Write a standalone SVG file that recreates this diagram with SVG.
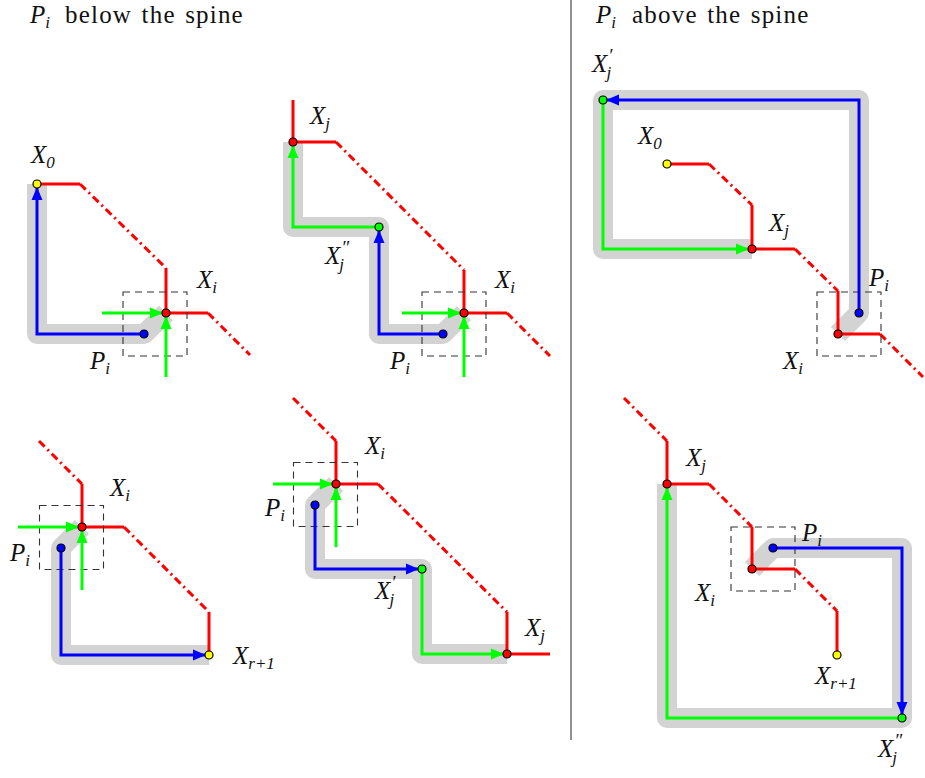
<svg xmlns="http://www.w3.org/2000/svg" width="925" height="778" viewBox="0 0 925 778">
<style>
.gray{fill:none;stroke:#d3d3d3;stroke-width:20;stroke-linejoin:round}
.red{fill:none;stroke:#ff0000;stroke-width:3}
.rdd{fill:none;stroke:#ff0000;stroke-width:3;stroke-dasharray:8 4 2 4}
.blue{fill:none;stroke:#0000ff;stroke-width:3}
.green{fill:none;stroke:#00ff00;stroke-width:3}
.box{fill:none;stroke:#333;stroke-width:1.1;stroke-dasharray:7 5}
.dot{stroke:#000;stroke-width:1.2}
</style>
<defs>
<marker id="ab" markerUnits="userSpaceOnUse" markerWidth="20" markerHeight="12" viewBox="0 -6 20 12" refX="16" refY="0" orient="auto" overflow="visible"><path d="M0,-5.5 L13,0 L0,5.5 z" fill="#0000ff"/></marker>
<marker id="ag" markerUnits="userSpaceOnUse" markerWidth="20" markerHeight="12" viewBox="0 -6 20 12" refX="16" refY="0" orient="auto" overflow="visible"><path d="M0,-5.5 L13,0 L0,5.5 z" fill="#00ff00"/></marker>
</defs>
<rect x="0" y="0" width="925" height="778" fill="#fff"/>

<g id="headers">
<text font-family="Times New Roman, Liberation Serif, serif" font-size="25" fill="#111" x="30" y="23"><tspan font-style="italic">P</tspan><tspan font-size="17" font-style="italic" dy="5">i</tspan><tspan dy="-5" x="65" letter-spacing="1.2" word-spacing="2">below the spine</tspan></text>
<text font-family="Times New Roman, Liberation Serif, serif" font-size="25" fill="#111" x="596" y="23"><tspan font-style="italic">P</tspan><tspan font-size="17" font-style="italic" dy="5">i</tspan><tspan dy="-5" x="632" letter-spacing="1.2" word-spacing="2">above the spine</tspan></text>
<line x1="571" y1="0" x2="571" y2="740" stroke="#555" stroke-width="1.3"/>
</g>

<!-- Panel 1 -->
<g id="panel1">
<g id="p1-connectors">
<path class="gray" d="M37,184 V334 H144 L166,313"/>
<path class="red" d="M37,184 H80 M166,268 V313 H208"/>
<path class="rdd" d="M80,184 L166,268 M208,313 L250,355"/>
<rect class="box" x="123" y="292" width="64" height="64"/>
<path class="blue" d="M144,334 H37 V184" marker-end="url(#ab)"/>
<path class="green" d="M102,313 H166" marker-end="url(#ag)"/>
<path class="green" d="M166,377 V313" marker-end="url(#ag)"/>
</g>
<g id="p1-X0"><circle class="dot" cx="37" cy="184" r="4" fill="#ffff00"/><text font-family="Times New Roman, Liberation Serif, serif" font-size="25" font-style="italic" fill="#111" x="31" y="163">X<tspan font-size="17" dy="5">0</tspan></text></g>
<g id="p1-Xi"><circle class="dot" cx="166" cy="313" r="4" fill="#ff0000"/><text font-family="Times New Roman, Liberation Serif, serif" font-size="25" font-style="italic" fill="#111" x="197" y="288">X<tspan font-size="17" dy="5">i</tspan></text></g>
<g id="p1-Pi"><circle class="dot" cx="144" cy="334" r="4" fill="#0000ff"/><text font-family="Times New Roman, Liberation Serif, serif" font-size="25" font-style="italic" fill="#111" x="90" y="369">P<tspan font-size="17" dy="5">i</tspan></text></g>
</g>

<!-- Panel 2 -->
<g id="panel2">
<g id="p2-connectors">
<path class="gray" d="M293,142 V227 H379 V334 H443 L464,313"/>
<path class="red" d="M293,100 V142 H336 M464,270 V313 H507"/>
<path class="rdd" d="M336,142 L464,270 M507,313 L550,356"/>
<rect class="box" x="422" y="292" width="64" height="64"/>
<path class="green" d="M379,227 H293 V142" marker-end="url(#ag)"/>
<path class="blue" d="M443,334 H379 V227" marker-end="url(#ab)"/>
<path class="green" d="M402,313 H464" marker-end="url(#ag)"/>
<path class="green" d="M464,377 V313" marker-end="url(#ag)"/>
</g>
<g id="p2-Xj"><circle class="dot" cx="293" cy="142" r="4" fill="#ff0000"/><text font-family="Times New Roman, Liberation Serif, serif" font-size="25" font-style="italic" fill="#111" x="310" y="124">X<tspan font-size="17" dy="5">j</tspan></text></g>
<g id="p2-Xj2"><circle class="dot" cx="379" cy="227" r="4" fill="#00ff00"/><text font-family="Times New Roman, Liberation Serif, serif" font-size="25" font-style="italic" fill="#111" x="325" y="264">X<tspan font-size="19" dy="-10" dx="1">″</tspan><tspan font-size="17" dy="16" dx="-10">j</tspan></text></g>
<g id="p2-Xi"><circle class="dot" cx="464" cy="313" r="4" fill="#ff0000"/><text font-family="Times New Roman, Liberation Serif, serif" font-size="25" font-style="italic" fill="#111" x="495" y="288">X<tspan font-size="17" dy="5">i</tspan></text></g>
<g id="p2-Pi"><circle class="dot" cx="443" cy="334" r="4" fill="#0000ff"/><text font-family="Times New Roman, Liberation Serif, serif" font-size="25" font-style="italic" fill="#111" x="390" y="369">P<tspan font-size="17" dy="5">i</tspan></text></g>
</g>

<!-- Panel 3 -->
<g id="panel3">
<g id="p3-connectors">
<path class="gray" d="M752,249 H603 V100 H859 V313 L838,334"/>
<path class="red" d="M667,164 H709 M752,205 V249 H795 M838,291 V334 H880"/>
<path class="rdd" d="M709,164 L752,205 M795,249 L838,291 M880,334 L923,377"/>
<rect class="box" x="817" y="292" width="64" height="64"/>
<path class="blue" d="M859,313 V100 H603" marker-end="url(#ab)"/>
<path class="green" d="M603,100 V249 H752" marker-end="url(#ag)"/>
</g>
<g id="p3-Xj1"><circle class="dot" cx="603" cy="100" r="4" fill="#00ff00"/><text font-family="Times New Roman, Liberation Serif, serif" font-size="25" font-style="italic" fill="#111" x="592" y="72">X<tspan font-size="19" dy="-10" dx="1">′</tspan><tspan font-size="17" dy="16" dx="-6">j</tspan></text></g>
<g id="p3-X0"><circle class="dot" cx="667" cy="164" r="4" fill="#ffff00"/><text font-family="Times New Roman, Liberation Serif, serif" font-size="25" font-style="italic" fill="#111" x="638" y="144">X<tspan font-size="17" dy="5">0</tspan></text></g>
<g id="p3-Xj"><circle class="dot" cx="752" cy="249" r="4" fill="#ff0000"/><text font-family="Times New Roman, Liberation Serif, serif" font-size="25" font-style="italic" fill="#111" x="769" y="231">X<tspan font-size="17" dy="5">j</tspan></text></g>
<g id="p3-Pi"><circle class="dot" cx="859" cy="313" r="4" fill="#0000ff"/><text font-family="Times New Roman, Liberation Serif, serif" font-size="25" font-style="italic" fill="#111" x="869" y="286">P<tspan font-size="17" dy="5">i</tspan></text></g>
<g id="p3-Xi"><circle class="dot" cx="838" cy="334" r="4" fill="#ff0000"/><text font-family="Times New Roman, Liberation Serif, serif" font-size="25" font-style="italic" fill="#111" x="783" y="369">X<tspan font-size="17" dy="5">i</tspan></text></g>
</g>

<!-- Panel 4 -->
<g id="panel4">
<g id="p4-connectors">
<path class="gray" d="M82,527 L61,548 V655 H209"/>
<path class="red" d="M82,484 V527 H124 M209,612 V655"/>
<path class="rdd" d="M39,441 L82,484 M124,527 L209,612"/>
<rect class="box" x="39.5" y="505.5" width="64" height="64"/>
<path class="blue" d="M61,548 V655 H209" marker-end="url(#ab)"/>
<path class="green" d="M18,527 H82" marker-end="url(#ag)"/>
<path class="green" d="M82,590 V527" marker-end="url(#ag)"/>
</g>
<g id="p4-Xi"><circle class="dot" cx="82" cy="527" r="4" fill="#ff0000"/><text font-family="Times New Roman, Liberation Serif, serif" font-size="25" font-style="italic" fill="#111" x="110" y="496">X<tspan font-size="17" dy="5">i</tspan></text></g>
<g id="p4-Pi"><circle class="dot" cx="61" cy="548" r="4" fill="#0000ff"/><text font-family="Times New Roman, Liberation Serif, serif" font-size="25" font-style="italic" fill="#111" x="10" y="561">P<tspan font-size="17" dy="5">i</tspan></text></g>
<g id="p4-Xr1"><circle class="dot" cx="209" cy="655" r="4" fill="#ffff00"/><text font-family="Times New Roman, Liberation Serif, serif" font-size="25" font-style="italic" fill="#111" x="233" y="664">X<tspan font-size="17" dy="5">r+1</tspan></text></g>
</g>

<!-- Panel 5 -->
<g id="panel5">
<g id="p5-connectors">
<path class="gray" d="M336,484 L315,505 V569 H422 V654 H507"/>
<path class="red" d="M336,441 V484 H378 M507,612 V654 H550"/>
<path class="rdd" d="M293,398 L336,441 M378,484 L507,612"/>
<rect class="box" x="293.5" y="462.5" width="64" height="64"/>
<path class="blue" d="M315,505 V569 H422" marker-end="url(#ab)"/>
<path class="green" d="M422,569 V654 H507" marker-end="url(#ag)"/>
<path class="green" d="M273,484 H336" marker-end="url(#ag)"/>
<path class="green" d="M336,547 V484" marker-end="url(#ag)"/>
</g>
<g id="p5-Xi"><circle class="dot" cx="336" cy="484" r="4" fill="#ff0000"/><text font-family="Times New Roman, Liberation Serif, serif" font-size="25" font-style="italic" fill="#111" x="365" y="454">X<tspan font-size="17" dy="5">i</tspan></text></g>
<g id="p5-Pi"><circle class="dot" cx="315" cy="505" r="4" fill="#0000ff"/><text font-family="Times New Roman, Liberation Serif, serif" font-size="25" font-style="italic" fill="#111" x="265" y="516">P<tspan font-size="17" dy="5">i</tspan></text></g>
<g id="p5-Xj1"><circle class="dot" cx="422" cy="569" r="4" fill="#00ff00"/><text font-family="Times New Roman, Liberation Serif, serif" font-size="25" font-style="italic" fill="#111" x="375" y="599">X<tspan font-size="19" dy="-10" dx="1">′</tspan><tspan font-size="17" dy="16" dx="-6">j</tspan></text></g>
<g id="p5-Xj"><circle class="dot" cx="507" cy="654" r="4" fill="#ff0000"/><text font-family="Times New Roman, Liberation Serif, serif" font-size="25" font-style="italic" fill="#111" x="525" y="636">X<tspan font-size="17" dy="5">j</tspan></text></g>
</g>

<!-- Panel 6 -->
<g id="panel6">
<g id="p6-connectors">
<path class="gray" d="M752,569 L773,548 H902 V718 H667 V484"/>
<path class="red" d="M667,441 V484 H709 M752,527 V569 H795 M837,611 V655"/>
<path class="rdd" d="M624,398 L667,441 M709,484 L752,527 M795,569 L837,611"/>
<rect class="box" x="731" y="527" width="64" height="64"/>
<path class="blue" d="M773,548 H902 V718" marker-end="url(#ab)"/>
<path class="green" d="M902,718 H667 V484" marker-end="url(#ag)"/>
</g>
<g id="p6-Xj"><circle class="dot" cx="667" cy="484" r="4" fill="#ff0000"/><text font-family="Times New Roman, Liberation Serif, serif" font-size="25" font-style="italic" fill="#111" x="686" y="466">X<tspan font-size="17" dy="5">j</tspan></text></g>
<g id="p6-Pi"><circle class="dot" cx="773" cy="548" r="4" fill="#0000ff"/><text font-family="Times New Roman, Liberation Serif, serif" font-size="25" font-style="italic" fill="#111" x="802" y="541">P<tspan font-size="17" dy="5">i</tspan></text></g>
<g id="p6-Xi"><circle class="dot" cx="752" cy="569" r="4" fill="#ff0000"/><text font-family="Times New Roman, Liberation Serif, serif" font-size="25" font-style="italic" fill="#111" x="695" y="601">X<tspan font-size="17" dy="5">i</tspan></text></g>
<g id="p6-Xr1"><circle class="dot" cx="837" cy="655" r="4" fill="#ffff00"/><text font-family="Times New Roman, Liberation Serif, serif" font-size="25" font-style="italic" fill="#111" x="815" y="684">X<tspan font-size="17" dy="5">r+1</tspan></text></g>
<g id="p6-Xj2"><circle class="dot" cx="902" cy="718" r="4" fill="#00ff00"/><text font-family="Times New Roman, Liberation Serif, serif" font-size="25" font-style="italic" fill="#111" x="878" y="757">X<tspan font-size="19" dy="-10" dx="1">″</tspan><tspan font-size="17" dy="16" dx="-10">j</tspan></text></g>
</g>
</svg>
